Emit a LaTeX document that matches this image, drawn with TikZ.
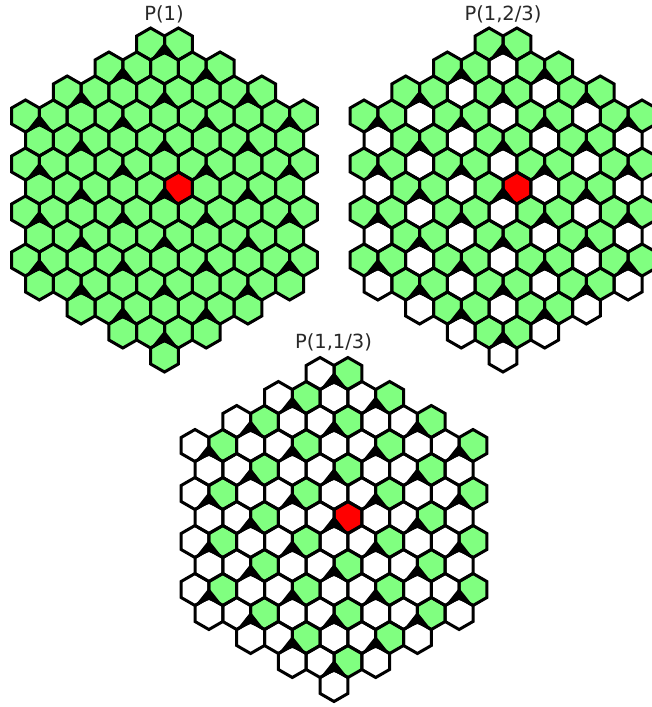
\documentclass[tikz,border=0pt]{standalone}
\usepackage{fontspec}
\setmainfont{DejaVu Sans}
\definecolor{cellgreen}{RGB}{128,255,128}
\definecolor{labelgray}{RGB}{40,40,40}
\tikzset{
  cellline/.style={draw=black, line width=3pt, line join=miter},
  dartfill/.style={fill=black},
  patchlabel/.style={font=\fontsize{19.5}{22}\selectfont, text=labelgray, inner sep=0pt, anchor=base},
}
% One pass over the cells of a patch whose centres lie in a large hexagon
% around the honeycomb vertex (#1,#2).
% #3: colouring (1 = all green, 2 = two classes green, 3 = one class green)
% #4: pass (0 = fills, 1 = black darts, 2 = outlines)
% Cell (u,j): centre x = u*w/2, height = (-1+1.5j)*s above the vertex.
% Class mod(u,3): 0 = cell below a dart, 1 = upper right, 2 = upper left.
\newcommand\hexpatch[4]{%
  \foreach \j in {-6,...,7}{%
    \foreach \u in {-10,...,10}{%
      \pgfmathsetmacro\yy{-1+1.5*\j}%
      \pgfmathtruncatemacro\ok{and(mod(abs(\u+\j),2)==0, abs(\yy)+abs(\u)/2<=10.01)}%
      \ifnum\ok=1
        \pgfmathsetmacro\cx{#1+(\u)*13.9}%
        \pgfmathsetmacro\cy{#2-(\yy)*16}%
        \pgfmathtruncatemacro\cls{mod(\u+30,3)}%
        \ifcase#4
          \def\fc{cellgreen}%
          \ifnum#3=2 \ifnum\cls=0 \def\fc{white}\fi\fi
          \ifnum#3=3 \ifnum\cls=1 \else\def\fc{white}\fi\fi
          \ifnum\u=1 \ifnum\j=1 \def\fc{red}\fi\fi
          \fill[\fc, shift={(\cx,\cy)}] (0,-16) -- (13.9,-8) -- (13.9,8) -- (0,16) -- (-13.9,8) -- (-13.9,-8) -- cycle;
        \or
          \ifnum\cls=0
            \fill[dartfill, shift={(\cx,\cy)}] (0,-25.5) -- (-13.9,-8) -- (0,-13.5) -- (13.9,-8) -- cycle;
          \fi
        \or
          \draw[cellline, shift={(\cx,\cy)}] (0,-16) -- (13.9,-8) -- (13.9,8) -- (0,16) -- (-13.9,8) -- (-13.9,-8) -- cycle;
        \fi
      \fi
    }%
  }%
}
\newcommand\fullpatch[3]{%
  \hexpatch{#1}{#2}{#3}{0}%
  \hexpatch{#1}{#2}{#3}{1}%
  \hexpatch{#1}{#2}{#3}{2}%
}
\begin{document}
\begin{tikzpicture}[x=1pt, y=-1pt]
  \useasboundingbox (0,0) rectangle (652,707);
  \begin{scope}
    \clip (0,0) rectangle (652,707);
    \fullpatch{164.5}{196}{1}
    \fullpatch{503}{196}{2}
    \fullpatch{334}{525.5}{3}
  \end{scope}
  \node[patchlabel] (labelA) at (164,20.7) {P(1)};
  \node[patchlabel] (labelB) at (503,20.7) {P(1,2/3)};
  \node[patchlabel] (labelC) at (333.5,348.3) {P(1,1/3)};
\end{tikzpicture}
\end{document}
